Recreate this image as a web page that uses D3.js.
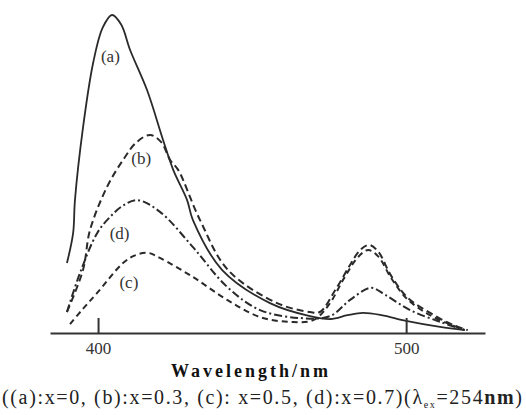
<!DOCTYPE html>
<html>
<head>
<meta charset="utf-8">
<script src="https://cdn.jsdelivr.net/npm/d3@7"></script>
<style>
  body { margin: 0; background: #fff; }
  svg { display: block; font-family: "Liberation Serif", "Times New Roman", serif; }
</style>
</head>
<body>
<svg id="chart" width="526" height="415"></svg>
<script>
// Emission spectra: [wavelength nm, intensity a.u.]
const curveA = [[389.9,22],[391.9,31.4],[392.5,41.8],[395.1,64.5],[398.4,84.9],[401.5,96],[404.5,100],
  [407.5,97],[410.4,89],[415.9,76.4],[421.1,60.7],[424.4,51.3],[428.9,41.8],[430.8,35.5],[440.3,19.8],
  [455.8,9.4],[468.8,5.3],[475.5,4.4],[481,5.6],[486,6.3],[492,5.6],[500,3.8],[511,1.9],[519,0.9]];
const curveB = [[389.9,6.6],[395.1,19.8],[397.4,32.4],[402.9,45.9],[408.1,54.4],[412.5,60],[416.9,62.3],
  [420.5,60],[423.4,54.4],[426,51.3],[433.1,35.5],[442.2,19.8],[458.1,9.4],[468.8,6.6],[472,6.6],
  [477,13.5],[481.8,21.4],[485,26],[488,27.7],[491,25.5],[495,18.2],[500.3,11.3],[507.8,6.3],
  [515.3,2.5],[520,0.9]];
const curveC = [[390.9,2.8],[395,7.5],[399.7,12.6],[408.1,22],[412,24.4],[416.2,25.2],[420.1,23.6],
  [430.8,17.6],[441.9,10.4],[452.6,5],[462.3,3.5],[470,4.1],[475,9],[480,17.5],[484.5,24],[487.7,26.1],
  [491,24],[495,17.5],[500,11],[507,6],[514,2.8],[519,1]];
const curveD = [[389.9,6.6],[394,18.5],[399.7,31.4],[403.9,36.5],[408,40],[412.7,41.8],[420.1,38.1],
  [430.8,27],[441.9,14.5],[452.6,7.2],[465.6,4.7],[475.3,5.3],[481.8,10.4],[488.6,14.2],[493.2,12],
  [501.3,7.2],[511,3.5],[519,0.9]];

const series = [
  { name: "(a)", data: curveA, dash: null,      label: [404, 87] },
  { name: "(b)", data: curveB, dash: "7,4",     label: [414, 55] },
  { name: "(c)", data: curveC, dash: "6,4",     label: [410, 16] },
  { name: "(d)", data: curveD, dash: "8,3,2,3", label: [407, 31.5] }
];
const xTicks = [400, 500];

const svg = d3.select("#chart");

const x = d3.scaleLinear().domain([384.4, 525.6]).range([50, 485]);
const y = d3.scaleLinear().domain([0, 100]).range([333, 15]);

// Curves
const line = d3.line()
  .x(d => x(d[0]))
  .y(d => y(d[1]))
  .curve(d3.curveCatmullRom.alpha(0.5));

svg.selectAll(".curve")
  .data(series)
  .enter()
  .append("path")
  .attr("class", "curve")
  .attr("d", d => line(d.data))
  .attr("fill", "none")
  .attr("stroke", "#2a2a2a")
  .attr("stroke-width", d => d.dash ? 2 : 1.8)
  .attr("stroke-dasharray", d => d.dash);

// Curve labels
svg.selectAll(".lbl")
  .data(series)
  .enter()
  .append("text")
  .attr("class", "lbl")
  .attr("x", d => x(d.label[0]))
  .attr("y", d => y(d.label[1]))
  .attr("text-anchor", "middle")
  .attr("dy", "0.35em")
  .attr("font-size", 17)
  .attr("fill", "#333")
  .text(d => d.name);

// X axis, ticks pointing up
const xAxis = d3.axisBottom(x)
  .tickValues(xTicks)
  .tickSizeInner(-15)
  .tickSizeOuter(0)
  .tickPadding(9);

const gx = svg.append("g")
  .attr("transform", "translate(0," + y(0) + ")")
  .call(xAxis);
gx.select(".domain").attr("stroke", "#333").attr("stroke-width", 2);
gx.selectAll(".tick line").attr("stroke", "#333").attr("stroke-width", 2);
gx.selectAll(".tick text")
  .attr("font-family", "Liberation Serif, serif")
  .attr("font-size", 17)
  .attr("fill", "#333");

// Axis title
svg.append("text")
  .attr("x", 251)
  .attr("y", 377)
  .attr("text-anchor", "middle")
  .attr("font-size", 18)
  .attr("font-weight", "bold")
  .attr("letter-spacing", 3)
  .attr("fill", "#111")
  .text("Wavelength/nm");

// Caption
const cap = svg.append("text")
  .attr("x", 2)
  .attr("y", 404)
  .attr("font-size", 20)
  .attr("fill", "#222")
  .attr("textLength", 520)
  .attr("lengthAdjust", "spacing");
cap.append("tspan").text("((a):x=0, (b):x=0.3, (c): x=0.5, (d):x=0.7)(λ");
cap.append("tspan").attr("font-size", 10).attr("dy", 4).text("ex");
cap.append("tspan").attr("dy", -4).text("=254");
cap.append("tspan").attr("font-weight", "bold").text("nm");
cap.append("tspan").text(")");
</script>
</body>
</html>
